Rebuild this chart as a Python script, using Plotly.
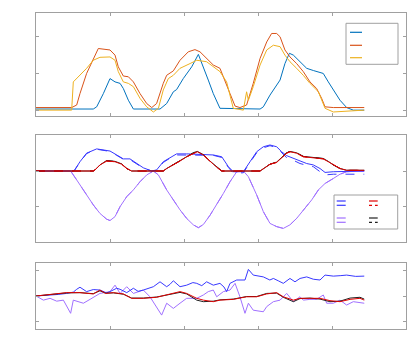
import plotly.graph_objects as go

# ---------------- Panel 1 data (time s, value) ----------------
p1_blue_t = [0, 3.87, 4.10, 4.55, 5.00, 5.34, 5.68, 5.90, 6.24, 6.53, 6.58, 8.38, 8.83, 9.28, 9.50, 9.95, 10.52, 10.97, 11.31, 11.64, 11.98, 12.43, 15.14, 15.36, 15.81, 16.26, 16.49, 16.82, 17.12, 17.39, 17.84, 18.29, 18.74, 19.41, 19.75, 20.09, 20.54, 20.99, 21.44, 22.18]
p1_blue_v = [0.03, 0.03, 0.09, 0.45, 0.86, 0.77, 0.73, 0.59, 0.27, 0.05, 0.03, 0.03, 0.18, 0.50, 0.56, 0.86, 1.18, 1.52, 1.18, 0.82, 0.45, 0.05, 0.03, 0.09, 0.41, 0.68, 0.82, 1.27, 1.55, 1.50, 1.32, 1.14, 1.08, 1.00, 0.77, 0.55, 0.27, 0.07, 0.0, 0.0]

p1_orange_t = [0, 2.41, 2.75, 2.97, 3.42, 3.87, 4.21, 5.00, 5.34, 5.56, 5.90, 6.24, 6.58, 7.03, 7.48, 7.82, 8.15, 8.60, 8.83, 9.28, 9.73, 10.29, 10.74, 11.08, 11.53, 11.98, 12.43, 12.77, 13.11, 13.45, 13.78, 14.23, 14.68, 15.14, 15.59, 15.92, 16.26, 16.49, 16.82, 17.16, 17.61, 18.06, 18.51, 18.96, 19.30, 19.53, 20.09, 22.18]
p1_orange_v = [0.07, 0.07, 0.14, 0.45, 1.0, 1.41, 1.68, 1.64, 1.50, 1.18, 0.93, 0.91, 0.77, 0.45, 0.18, 0.07, 0.18, 0.73, 0.95, 1.07, 1.36, 1.59, 1.65, 1.59, 1.41, 1.23, 1.14, 0.82, 0.45, 0.11, 0.07, 0.14, 0.73, 1.41, 1.86, 2.09, 2.09, 2.0, 1.64, 1.45, 1.27, 1.05, 0.77, 0.59, 0.32, 0.09, 0.07, 0.07]

p1_yellow_t = [0, 2.41, 2.52, 2.97, 3.42, 3.87, 4.32, 5.00, 5.34, 5.56, 5.90, 6.24, 6.58, 7.03, 7.48, 7.93, 8.27, 8.60, 8.94, 9.28, 9.73, 10.41, 10.86, 11.53, 11.98, 12.43, 12.88, 13.11, 13.33, 14.01, 14.23, 14.35, 14.68, 15.14, 15.59, 16.04, 16.49, 16.82, 17.16, 17.61, 18.06, 18.51, 19.08, 19.53, 20.09, 22.18]
p1_yellow_v = [0.0, 0.0, 0.77, 0.95, 1.14, 1.36, 1.44, 1.45, 1.36, 1.05, 0.77, 0.73, 0.64, 0.32, 0.09, -0.05, 0.05, 0.55, 0.86, 0.95, 1.14, 1.27, 1.36, 1.32, 1.18, 1.05, 0.77, 0.36, 0.05, 0.0, 0.5, 0.27, 0.64, 1.23, 1.64, 1.77, 1.73, 1.50, 1.32, 1.14, 0.95, 0.73, 0.50, 0.05, -0.05, 0.0]

# ---------------- Panel 2 data ----------------
p2_blue_t = [0, 2.57, 2.97, 3.42, 4.10, 4.55, 5.00, 5.45, 5.90, 6.35, 6.80, 7.25, 7.82, 8.15, 8.60, 9.05, 9.50, 10.18, 11.08, 11.98, 12.55, 13.00, 13.33, 14.01, 14.46, 14.91, 15.36, 15.81, 16.26, 16.60, 16.94, 17.39, 17.84, 18.29, 18.74, 19.19, 19.53, 20.09, 22.18]
p2_blue_v = [0, 0, 0.26, 0.50, 0.62, 0.59, 0.56, 0.45, 0.34, 0.34, 0.21, 0.09, 0, 0.03, 0.26, 0.38, 0.48, 0.48, 0.47, 0.45, 0.40, 0.12, -0.02, -0.02, 0.26, 0.54, 0.68, 0.73, 0.68, 0.54, 0.43, 0.36, 0.28, 0.21, 0.17, 0.07, -0.04, -0.02, 0]
p2_blue_dash_v = [0, 0, 0.25, 0.49, 0.61, 0.59, 0.55, 0.44, 0.33, 0.32, 0.20, 0.08, 0, 0.02, 0.24, 0.36, 0.45, 0.45, 0.45, 0.44, 0.38, 0.10, -0.06, -0.05, 0.24, 0.51, 0.65, 0.71, 0.66, 0.50, 0.37, 0.30, 0.21, 0.16, 0.12, -0.02, -0.11, -0.09, -0.09]

p2_red_t = [0, 3.87, 3.99, 4.32, 4.77, 5.34, 5.79, 6.13, 6.46, 8.60, 8.83, 9.28, 9.73, 10.18, 10.63, 10.90, 11.31, 11.64, 11.98, 12.32, 12.55, 15.14, 15.36, 15.81, 16.26, 16.60, 16.94, 17.16, 17.61, 18.06, 18.74, 19.41, 19.75, 20.09, 20.54, 20.99, 22.18]
p2_red_v = [0, 0, 0.03, 0.17, 0.28, 0.26, 0.19, 0.07, 0, 0, 0.07, 0.17, 0.28, 0.40, 0.50, 0.54, 0.45, 0.31, 0.19, 0.07, 0, 0, 0.07, 0.19, 0.24, 0.36, 0.50, 0.54, 0.50, 0.40, 0.36, 0.34, 0.26, 0.17, 0.07, 0.02, 0.02]
p2_black_v = [0, 0, 0.03, 0.17, 0.29, 0.27, 0.20, 0.07, 0, 0, 0.07, 0.18, 0.29, 0.41, 0.51, 0.55, 0.46, 0.32, 0.19, 0.07, 0, 0, 0.07, 0.19, 0.25, 0.37, 0.51, 0.55, 0.51, 0.41, 0.37, 0.35, 0.27, 0.17, 0.07, 0.02, 0.02]

p2_purple_t = [0, 2.34, 2.75, 3.42, 3.87, 4.32, 4.77, 5.00, 5.34, 5.68, 6.13, 6.58, 7.03, 7.48, 7.93, 8.27, 8.83, 9.28, 9.73, 10.18, 10.63, 10.97, 11.31, 11.76, 12.21, 12.66, 13.11, 13.56, 14.01, 14.35, 14.91, 15.36, 15.81, 16.26, 16.71, 17.16, 17.61, 18.06, 18.63, 19.08, 19.53, 20.09, 20.54, 20.99, 22.18]
p2_purple_v = [0, 0, -0.25, -0.67, -0.95, -1.19, -1.35, -1.39, -1.28, -1.00, -0.72, -0.53, -0.30, -0.11, 0, -0.11, -0.53, -0.81, -1.09, -1.33, -1.51, -1.59, -1.50, -1.24, -0.95, -0.63, -0.30, -0.02, 0, -0.16, -0.67, -1.14, -1.47, -1.56, -1.61, -1.51, -1.33, -1.09, -0.81, -0.53, -0.35, -0.21, -0.09, -0.02, 0]

# ---------------- Panel 3 data ----------------
p3_blue_t = [0, 0.95, 1.50, 2.07, 2.52, 2.75, 2.97, 3.42, 3.87, 4.32, 4.77, 5.00, 5.45, 5.68, 6.13, 6.58, 6.90, 7.25, 7.70, 7.93, 8.38, 8.83, 9.05, 9.28, 9.73, 10.18, 10.60, 10.86, 11.20, 11.53, 11.98, 12.43, 12.70, 12.88, 13.11, 13.56, 14.12, 14.35, 14.68, 15.00, 15.36, 15.80, 16.04, 16.40, 16.71, 17.16, 17.50, 17.84, 18.29, 18.74, 19.19, 19.53, 20.09, 20.60, 20.99, 21.60, 22.18]
p3_blue_v = [0, 0.03, 0.06, 0.10, 0.15, 0.26, 0.34, 0.17, 0.25, 0.23, 0.12, 0.17, 0.30, 0.26, 0.13, 0.30, 0.18, 0.23, 0.30, 0.36, 0.55, 0.36, 0.45, 0.59, 0.36, 0.42, 0.52, 0.49, 0.40, 0.55, 0.42, 0.49, 0.35, 0.17, 0.49, 0.62, 0.62, 1.03, 0.81, 0.78, 0.74, 0.62, 0.68, 0.58, 0.49, 0.68, 0.55, 0.68, 0.74, 0.65, 0.62, 0.81, 0.77, 0.79, 0.81, 0.76, 0.77]

p3_red_t = [0, 0.95, 2.07, 2.97, 3.87, 4.32, 4.70, 5.23, 5.90, 6.46, 7.25, 8.15, 8.83, 9.28, 9.73, 10.18, 10.86, 11.31, 11.98, 12.43, 13.33, 14.23, 14.91, 15.59, 16.26, 16.71, 17.39, 17.84, 18.51, 19.19, 19.86, 20.54, 21.22, 21.89, 22.18]
p3_red_v = [0, 0.06, 0.13, 0.13, 0.08, 0.23, 0.10, 0.13, 0.08, -0.09, -0.09, -0.05, 0.04, 0.10, 0.17, 0.10, -0.09, -0.16, -0.22, -0.16, -0.13, -0.03, -0.03, 0.08, 0.13, -0.03, -0.16, -0.09, -0.09, -0.09, -0.18, -0.22, -0.13, -0.09, -0.16]
p3_black_v = [0, 0.06, 0.12, 0.13, 0.09, 0.20, 0.11, 0.12, 0.07, -0.08, -0.08, -0.04, 0.05, 0.09, 0.14, 0.08, -0.16, -0.22, -0.20, -0.15, -0.12, -0.02, -0.02, 0.10, 0.11, -0.05, -0.22, -0.10, -0.08, -0.12, -0.22, -0.20, -0.08, -0.05, -0.12]

p3_purple_t = [0, 0.50, 0.95, 1.40, 1.85, 2.34, 2.52, 3.20, 3.65, 4.32, 5.00, 5.34, 5.68, 6.13, 6.58, 7.25, 7.70, 8.15, 8.49, 8.83, 9.28, 9.73, 10.18, 10.86, 11.31, 11.64, 11.98, 12.21, 12.66, 13.11, 13.45, 13.78, 14.12, 14.35, 14.68, 15.36, 15.59, 16.04, 16.49, 16.94, 17.39, 17.84, 18.06, 18.51, 18.96, 19.41, 19.64, 20.09, 20.54, 20.99, 21.44, 22.18]
p3_purple_v = [0, -0.16, -0.09, -0.20, -0.16, -0.67, -0.16, -0.28, -0.13, 0.10, 0.17, 0.42, 0.10, 0.36, 0.10, 0.23, -0.03, -0.41, -0.74, -0.28, -0.48, -0.28, -0.09, -0.09, 0.04, 0.17, 0.23, -0.03, 0.17, 0.23, 0.49, -0.03, -0.67, -0.28, -0.55, -0.61, -0.41, -0.22, -0.16, 0.10, -0.22, -0.03, -0.16, -0.13, -0.13, 0.04, -0.28, -0.28, -0.16, -0.35, -0.22, -0.28]

# ---------------- colours ----------------
C_BLUE1, C_ORANGE, C_YELLOW = "#0072BD", "#D95319", "#EDB120"
C_BLUE, C_PURPLE, C_RED, C_BLACK = "#3838FF", "#A070FF", "#E00000", "#202020"

W, H = 407, 348
fig = go.Figure()

def add(x, y, color, ax, dash="solid", width=1):
    fig.add_trace(go.Scatter(x=x, y=y, mode="lines", line=dict(color=color, width=width, dash=dash),
                             xaxis="x" + ("" if ax == 1 else str(ax)), yaxis="y" + ("" if ax == 1 else str(ax)),
                             showlegend=False, hoverinfo="skip"))

add(p1_blue_t, p1_blue_v, C_BLUE1, 1)
add(p1_orange_t, p1_orange_v, C_ORANGE, 1)
add(p1_yellow_t, p1_yellow_v, C_YELLOW, 1)

add(p2_purple_t, p2_purple_v, C_PURPLE, 2, "dash")
add(p2_purple_t, p2_purple_v, C_PURPLE, 2)
add(p2_blue_t, p2_blue_dash_v, C_BLUE, 2, "dash")
add(p2_blue_t, p2_blue_v, C_BLUE, 2)
add(p2_red_t, p2_black_v, C_BLACK, 2, "dash")
add(p2_red_t, p2_black_v, C_BLACK, 2)
add(p2_red_t, p2_red_v, C_RED, 2, "dash")
add(p2_red_t, p2_red_v, C_RED, 2)

add(p3_purple_t, p3_purple_v, C_PURPLE, 3)
add(p3_blue_t, p3_blue_v, C_BLUE, 3)
add(p3_red_t, p3_black_v, C_BLACK, 3)
add(p3_red_t, p3_red_v, C_RED, 3)

def px_x(p): return p / W
def px_y(p): return 1 - p / H

axcommon = dict(showline=True, linecolor="#A0A0A0", linewidth=1, mirror="ticks", ticks="inside",
                ticklen=3, tickcolor="#A0A0A0", showticklabels=False, showgrid=False, zeroline=False)
xdom = [px_x(36), px_x(406)]
xkw = dict(range=[0, 25], dtick=5, domain=xdom, **axcommon)

fig.update_layout(
    width=W, height=H, margin=dict(l=0, r=0, t=0, b=0),
    paper_bgcolor="white", plot_bgcolor="white", showlegend=False,
    xaxis=dict(anchor="y", **xkw),
    yaxis=dict(anchor="x", range=[-0.16, 2.64], dtick=1, domain=[px_y(116), px_y(13.3)], **axcommon),
    xaxis2=dict(anchor="y2", **xkw),
    yaxis2=dict(anchor="x2", range=[-2, 1.01], dtick=1, domain=[px_y(242.3), px_y(135)], **axcommon),
    xaxis3=dict(anchor="y3", **xkw),
    yaxis3=dict(anchor="x3", range=[-1.29, 1.29], dtick=1, domain=[px_y(329.3), px_y(262.7)], **axcommon),
)

shapes = []
def rect(x0, y0, x1, y1):
    shapes.append(dict(type="rect", xref="paper", yref="paper", x0=px_x(x0), x1=px_x(x1), y0=px_y(y1), y1=px_y(y0),
                       line=dict(color="#A0A0A0", width=1), fillcolor="white", layer="above"))
def seg(x0, x1, y, color, dash="solid"):
    shapes.append(dict(type="line", xref="paper", yref="paper", x0=px_x(x0), x1=px_x(x1), y0=px_y(y), y1=px_y(y),
                       line=dict(color=color, width=1.2, dash=dash), layer="above"))

# legend 1
rect(346, 23.3, 398, 64.3)
seg(350, 362, 32.3, C_BLUE1)
seg(350, 362, 45.3, C_ORANGE)
seg(350, 362, 57.7, C_YELLOW)
# legend 2
rect(334, 195, 397.7, 229)
seg(336.7, 345.7, 201, C_BLUE); seg(336.7, 345.7, 205.3, C_BLUE, "dash")
seg(369, 377.7, 201, C_RED); seg(369, 377.7, 205.3, C_RED, "dot")
seg(336.7, 345.7, 218, C_PURPLE); seg(336.7, 345.7, 222.3, C_PURPLE, "dash")
seg(369, 377.7, 218, C_BLACK); seg(369, 377.7, 222.3, C_BLACK, "dot")
fig.update_layout(shapes=shapes)

# remove the default page margin so the 407x348 figure fills the window exactly
fig.write_html("out.html", config={"displayModeBar": False, "staticPlot": True},
               post_script="document.body.style.margin='0';document.body.style.overflow='hidden';")
